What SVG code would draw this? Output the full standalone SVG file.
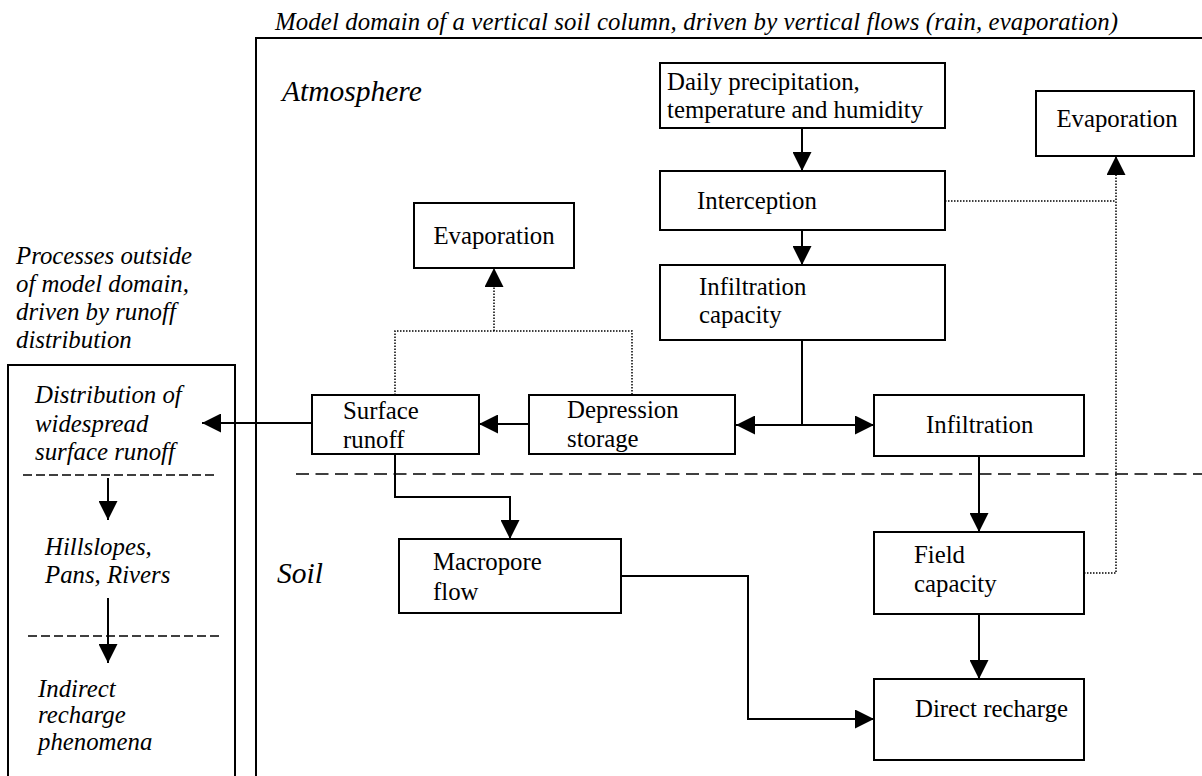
<svg xmlns="http://www.w3.org/2000/svg" width="1202" height="776" viewBox="0 0 1202 776">
<style>
text{font-family:"Liberation Serif","Times New Roman",Times,serif;font-size:24.8px;fill:#000}
.it{font-style:italic}
.big{font-size:29.5px}
.box{fill:#fff;stroke:#000;stroke-width:2}
.frame{fill:none;stroke:#000;stroke-width:2}
.solid{fill:none;stroke:#000;stroke-width:2;marker-end:url(#ah)}
.dot{fill:none;stroke:#000;stroke-width:1.5;stroke-dasharray:1.5 1.5}
.doth{fill:none;stroke:#000;stroke-width:1.5;stroke-dasharray:1.5 1.5;marker-end:url(#ah)}
.dash{fill:none;stroke:#000;stroke-width:1.5;stroke-dasharray:13 6.5}
.dash2{fill:none;stroke:#000;stroke-width:1.5;stroke-dasharray:9 4}
</style>
<defs>
<marker id="ah" viewBox="0 0 19 19" refX="19" refY="9.5" markerWidth="19" markerHeight="19" markerUnits="userSpaceOnUse" orient="auto">
<path d="M0,0 L19,9.5 L0,19 z" fill="#000"/>
</marker>
</defs>

<g id="frames">
<text class="it" x="275" y="30" textLength="843" lengthAdjust="spacing">Model domain of a vertical soil column, driven by vertical flows (rain, evaporation)</text>
<path class="frame" d="M256,776 V38 H1202"/>
<text class="it big" x="282" y="101">Atmosphere</text>
<text class="it big" x="277" y="583">Soil</text>
<path class="dash" d="M296,474 H1202"/>
<text class="it" x="16" y="264">Processes outside</text>
<text class="it" x="16" y="292">of model domain,</text>
<text class="it" x="16" y="320">driven by runoff</text>
<text class="it" x="16" y="348">distribution</text>
<path class="frame" d="M8,776 V365 H235 V776"/>
</g>

<g id="left-panel">
<g id="distribution">
<text class="it" x="35" y="403">Distribution of</text>
<text class="it" x="35" y="432">widespread</text>
<text class="it" x="35" y="460">surface runoff</text>
</g>
<path class="dash2" d="M23,475 H215"/>
<g id="hillslopes">
<text class="it" x="45" y="555">Hillslopes,</text>
<text class="it" x="45" y="583">Pans, Rivers</text>
</g>
<path class="dash2" d="M28,636 H220"/>
<g id="indirect">
<text class="it" x="38" y="697">Indirect</text>
<text class="it" x="38" y="723">recharge</text>
<text class="it" x="38" y="750">phenomena</text>
</g>
</g>

<g id="daily">
<rect class="box" x="660" y="63" width="285" height="65"/>
<text x="667" y="90">Daily precipitation,</text>
<text x="667" y="118">temperature and humidity</text>
</g>
<g id="interception">
<rect class="box" x="660" y="171" width="285" height="59"/>
<text x="697" y="209">Interception</text>
</g>
<g id="infiltration-capacity">
<rect class="box" x="660" y="265" width="285" height="75"/>
<text x="699" y="295">Infiltration</text>
<text x="699" y="323">capacity</text>
</g>
<g id="evaporation-right">
<rect class="box" x="1036" y="91" width="158" height="65"/>
<text x="1117" y="127" text-anchor="middle">Evaporation</text>
</g>
<g id="evaporation-mid">
<rect class="box" x="414" y="203" width="160" height="65"/>
<text x="494" y="244" text-anchor="middle">Evaporation</text>
</g>
<g id="surface-runoff">
<rect class="box" x="312" y="395" width="167" height="59"/>
<text x="343" y="419">Surface</text>
<text x="343" y="448">runoff</text>
</g>
<g id="depression-storage">
<rect class="box" x="529" y="395" width="206" height="59"/>
<text x="567" y="418">Depression</text>
<text x="567" y="447">storage</text>
</g>
<g id="infiltration">
<rect class="box" x="874" y="395" width="210" height="61"/>
<text x="926" y="433">Infiltration</text>
</g>
<g id="macropore">
<rect class="box" x="399" y="539" width="222" height="74"/>
<text x="433" y="570">Macropore</text>
<text x="433" y="600">flow</text>
</g>
<g id="field-capacity">
<rect class="box" x="874" y="532" width="210" height="82"/>
<text x="914" y="563">Field</text>
<text x="914" y="592">capacity</text>
</g>
<g id="direct-recharge">
<rect class="box" x="874" y="679" width="210" height="81"/>
<text x="915" y="717">Direct recharge</text>
</g>

<g id="connectors">
<path class="solid" d="M802,128 V171"/>
<path class="solid" d="M802,230 V265"/>
<path class="solid" d="M802,340 V425 H736"/>
<path class="solid" d="M802,425 H874"/>
<path class="solid" d="M529,424 H479"/>
<path class="solid" d="M312,423 H202"/>
<path class="solid" d="M395,454 V497 H510 V539"/>
<path class="solid" d="M621,576 H748 V719 H874"/>
<path class="solid" d="M979,456 V532"/>
<path class="solid" d="M979,614 V679"/>
<path class="dot" d="M945,201 H1116"/>
<path class="doth" d="M1084,573 H1116 V156"/>
<path class="dot" d="M395,395 V331 H632 V395"/>
<path class="doth" d="M494,331 V268"/>
<path class="solid" d="M108,478 V520"/>
<path class="solid" d="M108,598 V663"/>
</g>
</svg>
